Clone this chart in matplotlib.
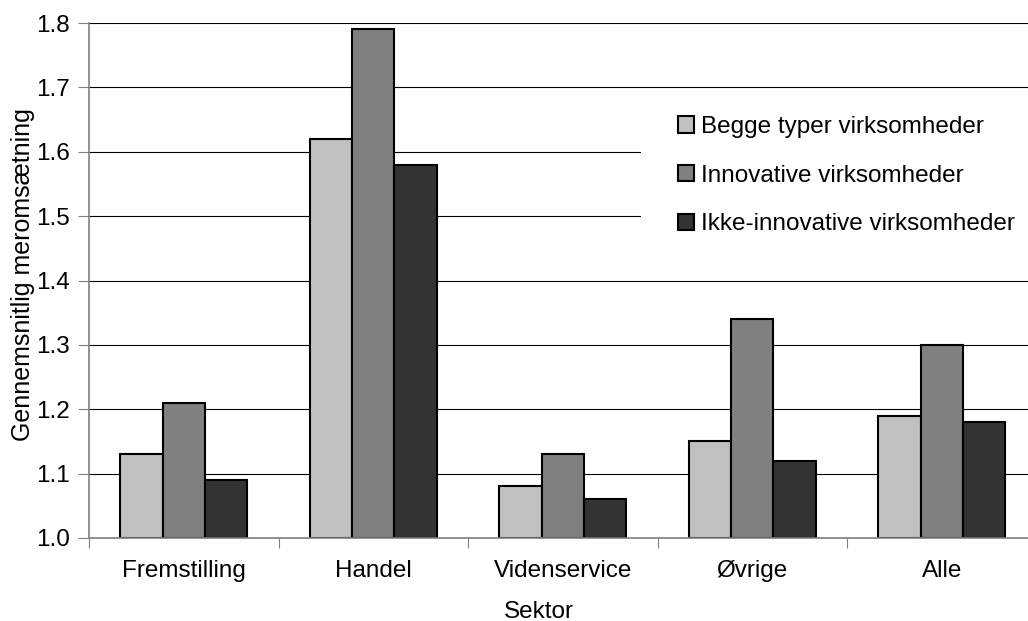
"""Gennemsnitlig meromsætning by sektor - grouped bar chart"""

import numpy as np
import matplotlib
matplotlib.use('Agg')
import matplotlib.pyplot as plt
from matplotlib.patches import Rectangle

plt.rcParams['font.family'] = ['Liberation Sans', 'DejaVu Sans']

# Data
sectors = ['Fremstilling', 'Handel', 'Videnservice', 'Øvrige', 'Alle']
series_names = ['Begge typer virksomheder', 'Innovative virksomheder',
                'Ikke-innovative virksomheder']
begge = [1.13, 1.62, 1.08, 1.15, 1.19]
innovative = [1.21, 1.79, 1.13, 1.34, 1.30]
ikke_innovative = [1.09, 1.58, 1.06, 1.12, 1.18]
y_ticks = [1.0, 1.1, 1.2, 1.3, 1.4, 1.5, 1.6, 1.7, 1.8]

colors = ['#c0c0c0', '#808080', '#333333']
W, H = 1028, 621
FS = 17.5


def main():
    fig = plt.figure(figsize=(W / 100, H / 100), dpi=100)
    # axes runs a little past the right edge, like the cropped original
    ax = fig.add_axes([89 / W, (H - 538) / H, 947.5 / W, 515 / H])

    x = np.arange(len(sectors))
    bw = 0.223
    for i, (vals, name) in enumerate(zip([begge, innovative, ikke_innovative],
                                         series_names)):
        ax.bar(x + (i - 1) * bw, np.array(vals) - 1.0, bw, bottom=1.0,
               color=colors[i], edgecolor='black', linewidth=1.5,
               label=name, zorder=2)

    ax.set_xlim(-0.5, len(sectors) - 0.5)
    ax.set_ylim(1.0, 1.8)
    ax.set_yticks(y_ticks)
    ax.set_yticklabels([f'{v:.1f}' for v in y_ticks], fontsize=FS)
    ax.yaxis.grid(True, color='black', linewidth=0.8)
    ax.set_axisbelow(True)

    # category boundaries as ticks, labels in the middle
    ax.set_xticks(np.arange(len(sectors) + 1) - 0.5)
    ax.set_xticklabels([])
    ax.set_xticks(x, minor=True)
    ax.set_xticklabels(sectors, minor=True, fontsize=FS)
    ax.tick_params(axis='x', which='minor', length=0, pad=16)
    ax.tick_params(axis='x', which='major', length=7, width=0.8, color='#808080')
    ax.tick_params(axis='y', length=8, width=0.8, color='#808080', pad=6)

    for s in ['top', 'right']:
        ax.spines[s].set_visible(False)
    for s in ['left', 'bottom']:
        ax.spines[s].set_color('#808080')
        ax.spines[s].set_linewidth(1.2)

    ax.set_ylabel('Gennemsnitlig meromsætning', fontsize=18)
    ax.yaxis.set_label_coords((35 - 89) / 947.5, 0.512)
    fig.text(539 / W, 1 - 618 / H, 'Sektor', fontsize=FS, ha='center',
             va='baseline')

    # white backdrop behind the legend hides the grid lines there
    ax.add_patch(Rectangle((641 / W, 1 - 278 / H), 400 / W, 188 / H,
                           transform=fig.transFigure, facecolor='white',
                           edgecolor='none', zorder=1))
    ax.legend(loc='upper left', bbox_to_anchor=(678 / W, 1 - 116 / H),
              bbox_transform=fig.transFigure, frameon=False, fontsize=FS,
              borderpad=0, borderaxespad=0, handlelength=0.65,
              handleheight=0.65, handletextpad=0.3, labelspacing=1.1)

    fig.savefig('out.png', dpi=100)


if __name__ == "__main__":
    main()
